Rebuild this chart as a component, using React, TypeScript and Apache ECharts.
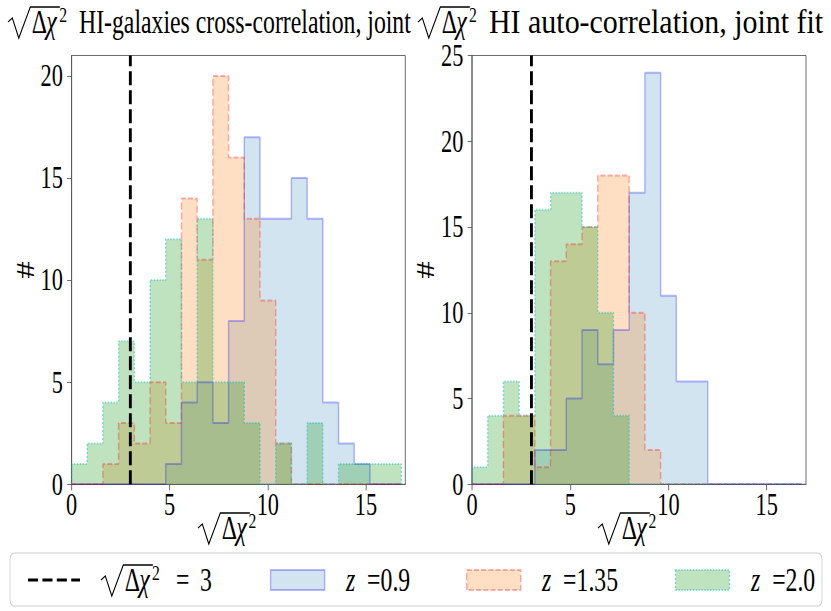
import React, { useEffect, useRef } from 'react';
import * as echarts from 'echarts';

// ---------------- data ----------------
const binWidth = 0.8; // common bin edges 0, 0.8, ..., 16.8 (21 bins)
const thresholdValue = 3; // sqrt(Δχ²) = 3 reference line

const leftBlue = [0, 0, 0, 0, 0, 0, 1, 4, 5, 3, 8, 17, 13, 13, 15, 13, 4, 2, 1, 0, 0];
const leftOrange = [0, 0, 1, 3, 2, 5, 3, 14, 11, 20, 16, 13, 9, 2, 0, 0, 0, 0, 0, 0, 0];
const leftGreen = [1, 2, 4, 7, 5, 10, 12, 5, 13, 5, 5, 3, 0, 2, 0, 3, 0, 1, 1, 1, 1];

const rightBlue = [0, 0, 0, 0, 2, 2, 5, 9, 7, 9, 17, 24, 11, 6, 6, 0, 0, 0, 0, 0, 0];
const rightOrange = [0, 0, 4, 4, 1, 13, 14, 15, 18, 18, 10, 2, 0, 0, 0, 0, 0, 0, 0, 0, 0];
const rightGreen = [1, 4, 6, 4, 16, 17, 17, 15, 10, 4, 0, 0, 0, 0, 0, 0, 0, 0, 0, 0, 0];

const redshiftLabels = ['0.9', '1.35', '2.0'];
const titleTexts = ['HI-galaxies cross-correlation, joint', 'HI auto-correlation, joint fit'];
const yLabel = '#';
const xMin = 0;
const xMax = 17;
const xInterval = 5;
const leftYMax = 21;
const rightYMax = 25;
const yInterval = 5;

// ---------------- layout / style ----------------
const PAGE_W = 831;
const PAGE_H = 611;
const SQ = 0.72; // horizontal squeeze of the reference figure
const W = Math.round(PAGE_W / SQ);
const S = PAGE_W / W;
const u = (v: number) => v / S; // reference px -> chart px (x only)

const SERIF = 'Liberation Serif, DejaVu Serif, serif';
const FS_TICK = 31;
const FS_TEXT = 33;

const gridTop = 55.5;
const gridBottomY = 484.3;
const grids = [
  { x0: 71.5, x1: 405.3 },
  { x0: 472, x1: 806 },
];

const styles = [
  { line: 'rgba(0,0,255,0.28)', fill: 'rgba(31,119,180,0.2)', type: 'solid' as any, width: 2 },
  { line: 'rgba(255,0,0,0.3)', fill: 'rgba(255,127,14,0.25)', type: [7, 3] as any, width: 2 },
  { line: 'rgba(0,190,190,0.45)', fill: 'rgba(44,160,44,0.3)', type: [2, 2] as any, width: 2 },
];

function stepPoints(counts: number[]) {
  const pts: number[][] = [[xMin, 0]];
  counts.forEach((c, i) => pts.push([xMin + i * binWidth, c]));
  const end = xMin + counts.length * binWidth;
  pts.push([end, counts[counts.length - 1]]);
  pts.push([end, 0]);
  return pts;
}

function histSeries(name: string, counts: number[], idx: number, st: any) {
  return {
    type: 'line',
    name,
    xAxisIndex: idx,
    yAxisIndex: idx,
    step: 'end',
    data: stepPoints(counts),
    showSymbol: false,
    symbol: 'none',
    silent: true,
    lineStyle: { color: st.line, width: st.width, type: st.type },
    areaStyle: { color: st.fill, opacity: 1 },
    z: 2,
  };
}

function txt(text: string, x: number, baseline: number, fs: number, fontStyle = 'normal', extra: any = {}) {
  return {
    type: 'text',
    silent: true,
    style: {
      text,
      x,
      y: baseline - 0.34 * fs,
      fill: '#000',
      fontSize: fs,
      fontFamily: SERIF,
      fontStyle,
      align: 'left',
      verticalAlign: 'middle',
      textAlign: 'left',
      textVerticalAlign: 'middle',
      ...extra,
    },
  };
}

// sqrt(Δχ²) drawn as radical + text
function sqrtDeltaChi(x0: number, b: number, fs: number, supAt = 71) {
  const k = fs / 33;
  return [
    {
      type: 'polyline',
      silent: true,
      shape: {
        points: [
          [x0, b - 11 * k],
          [x0 + 6 * k, b - 15 * k],
          [x0 + 15 * k, b + 5 * k],
          [x0 + 31 * k, b - 26 * k],
          [x0 + 72 * k, b - 26 * k],
        ],
      },
      style: { stroke: '#000', lineWidth: 1.5 * k, fill: 'none' },
    },
    txt('Δ', x0 + 33 * k, b, fs),
    txt('χ', x0 + 53 * k, b, fs, 'italic'),
    txt('2', x0 + supAt * k, b - 11 * k, fs * 0.66),
  ];
}

function buildOption() {
  const xAxes = grids.map((g, i) => ({
    type: 'value',
    gridIndex: i,
    min: xMin,
    max: xMax,
    interval: xInterval,
    axisLine: { show: true, onZero: false, lineStyle: { color: '#555', width: 1 } },
    axisTick: { show: true, length: 6, lineStyle: { color: '#555' } },
    axisLabel: { color: '#000', fontSize: FS_TICK, fontFamily: SERIF, margin: 5, showMaxLabel: false },
    splitLine: { show: false },
  }));
  const yMaxes = [leftYMax, rightYMax];
  const yAxes = grids.map((g, i) => ({
    type: 'value',
    gridIndex: i,
    min: 0,
    max: yMaxes[i],
    interval: yInterval,
    name: yLabel,
    nameLocation: 'middle',
    nameRotate: 90,
    nameGap: 44,
    nameTextStyle: { color: '#000', fontSize: FS_TICK + 3, fontFamily: SERIF },
    axisLine: { show: true, onZero: false, lineStyle: { color: '#555', width: 1 } },
    axisTick: { show: true, length: 6, lineStyle: { color: '#555' } },
    axisLabel: {
      color: '#000',
      fontSize: FS_TICK,
      fontFamily: SERIF,
      margin: 12,
      showMaxLabel: yMaxes[i] % yInterval === 0,
    },
    splitLine: { show: false },
  }));

  const panels = [
    [leftBlue, leftOrange, leftGreen],
    [rightBlue, rightOrange, rightGreen],
  ];
  const series: any[] = [];
  panels.forEach((sets, p) => {
    sets.forEach((counts, j) => {
      series.push(histSeries('z =' + redshiftLabels[j], counts, p, styles[j]));
    });
    series.push({
      type: 'line',
      name: 'threshold',
      xAxisIndex: p,
      yAxisIndex: p,
      data: [[thresholdValue, 0]],
      showSymbol: false,
      symbol: 'none',
      lineStyle: { width: 0 },
      silent: true,
      z: 10,
      markLine: {
        silent: true,
        symbol: ['none', 'none'],
        label: { show: false },
        lineStyle: { color: '#000', width: 4, type: [14, 5] },
        data: [{ xAxis: thresholdValue }],
      },
    });
  });

  // ---- graphic: titles, x labels, legend ----
  const g: any[] = [];
  const titleStarts = [8, 418];
  const titleTextX = [79, 489];
  const titleStretch = [1, 1.26];
  titleStarts.forEach((x, i) => {
    g.push(...sqrtDeltaChi(u(x), 33, FS_TEXT));
    const t: any = txt(titleTexts[i], 0, 33, FS_TEXT);
    t.x = u(titleTextX[i]);
    t.scaleX = titleStretch[i];
    g.push(t);
  });
  const xLabelStarts = [198, 598];
  xLabelStarts.forEach((x) => {
    g.push(...sqrtDeltaChi(u(x), 539, FS_TEXT, 70));
  });

  // legend
  const lb = 591;
  g.push({
    type: 'rect',
    silent: true,
    shape: { x: u(10), y: 553, width: u(822) - u(10), height: 53, r: 6 },
    style: { fill: '#fff', stroke: '#d0d0d0', lineWidth: 1.2 },
  });
  g.push({
    type: 'line',
    silent: true,
    shape: { x1: u(28), y1: 580, x2: u(80), y2: 580 },
    style: { stroke: '#000', lineWidth: 3, lineDash: [14, 6] },
  });
  g.push(...sqrtDeltaChi(u(101), lb, FS_TEXT));
  g.push(txt('=', u(176), lb, FS_TEXT));
  g.push(txt(String(thresholdValue), u(200), lb, FS_TEXT));
  const patchX = [270.6, 466.7, 675.5];
  const textX = [346, 542, 751];
  styles.forEach((st, j) => {
    g.push({
      type: 'rect',
      silent: true,
      shape: { x: u(patchX[j]), y: 570, width: u(54), height: 20 },
      style: { fill: st.fill, stroke: st.line, lineWidth: 2, lineDash: Array.isArray(st.type) ? st.type : null },
    });
    g.push(
      txt('{i|z}  =' + redshiftLabels[j], u(textX[j]), lb, FS_TEXT, 'normal', {
        rich: { i: { fontStyle: 'italic', fontSize: FS_TEXT, fontFamily: SERIF, fill: '#000' } },
      })
    );
  });

  return {
    animation: false,
    backgroundColor: '#fff',
    grid: grids.map((gr) => ({
      left: u(gr.x0),
      width: u(gr.x1) - u(gr.x0),
      top: gridTop,
      height: gridBottomY - gridTop,
      show: true,
      borderColor: '#555',
      borderWidth: 1,
      backgroundColor: 'transparent',
      containLabel: false,
    })),
    xAxis: xAxes,
    yAxis: yAxes,
    series,
    graphic: { elements: g },
  };
}

export default function App() {
  const ref = useRef<HTMLDivElement>(null);
  useEffect(() => {
    if (!ref.current) return;
    const chart = echarts.init(ref.current, null, { renderer: 'svg' });
    chart.setOption(buildOption() as any);
    return () => chart.dispose();
  }, []);
  return (
    <div
      style={{
        position: 'fixed',
        left: 0,
        top: 0,
        width: PAGE_W,
        height: PAGE_H,
        overflow: 'hidden',
        background: '#fff',
      }}
    >
      <div
        ref={ref}
        style={{ width: W, height: PAGE_H, transform: `scaleX(${S})`, transformOrigin: '0 0' }}
      />
    </div>
  );
}
